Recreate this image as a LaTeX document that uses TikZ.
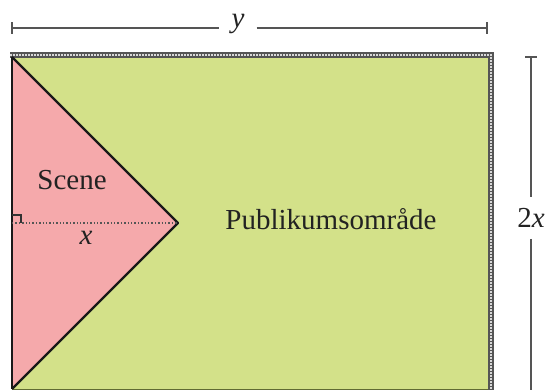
\documentclass[tikz,border=0pt]{standalone}
\usepackage{fontspec}
\setmainfont{Liberation Serif}
\definecolor{areagreen}{HTML}{D3E189}
\definecolor{stagepink}{HTML}{F5A9AB}
\definecolor{dimgrey}{HTML}{555555}
\definecolor{txt}{HTML}{222222}
\tikzset{
  dimline/.style={draw=dimgrey, line width=1.6pt},
  lbl/.style={text=txt, font=\fontsize{29}{33}\selectfont, inner sep=1pt},
  dimlbl/.style={lbl, inner xsep=12pt, inner ysep=12pt},
}
\begin{document}
\begin{tikzpicture}[x=1pt,y=-1pt]
\useasboundingbox (0,0) rectangle (547,390);
% corners
\coordinate (TL) at (12,57);
\coordinate (TR) at (489,57);
\coordinate (BR) at (489,389);
\coordinate (BL) at (12,389);
\coordinate (A) at (178,223);
% audience area
\fill[areagreen] (TL) rectangle (BR);
\draw[draw=olive!70!green!60!black, line width=0.8pt] (BL) -- (BR);
% frame on top and right
\draw[dimgrey, line width=5.5pt] (10,55) -- (491,55) -- (491,392);
\draw[white!85!black, line width=1.6pt, dash pattern=on 2pt off 1pt] (10,55) -- (491,55) -- (491,392);
% stage
\fill[stagepink] (TL) -- (A) -- (BL) -- cycle;
\draw[black!90, line width=2.2pt, line join=round] (TL) -- (A) -- (BL);
\draw[black!90, line width=2.2pt] (TL) -- (BL);
% height dotted + right angle
\draw[dimgrey, line width=1.4pt, dotted] (12,223) -- (A);
\draw[black!80, line width=1.2pt] (12,215) -- (21,215) -- (21,223);
% labels
\node[lbl] (scene) at (72,180) {Scene};
\node[lbl] (xl) at (86,238) {\textit{x}};
\node[lbl] (pub) at (331,219) {Publikumsområde};
% top dimension
\node[dimlbl] (yl) at (238,24) {\textit{y}};
\coordinate (d1) at (12,28);
\coordinate (d2) at (487,28);
\draw[dimline] (d1) -- (yl.west|-d1);
\draw[dimline] (yl.east|-d1) -- (d2);
\draw[dimline] ([yshift=-6]d1) -- ([yshift=6]d1);
\draw[dimline] ([yshift=-6]d2) -- ([yshift=6]d2);
% right dimension
\node[lbl, inner ysep=11pt] (hl) at (531,218) {2\textit{x}};
\coordinate (e1) at (531,57);
\coordinate (e2) at (531,392);
\draw[dimline] (e1) -- (e1|-hl.north);
\draw[dimline] (e2|-hl.south) -- (e2);
\draw[dimline] ([xshift=-6]e1) -- ([xshift=6]e1);
\end{tikzpicture}
\end{document}
